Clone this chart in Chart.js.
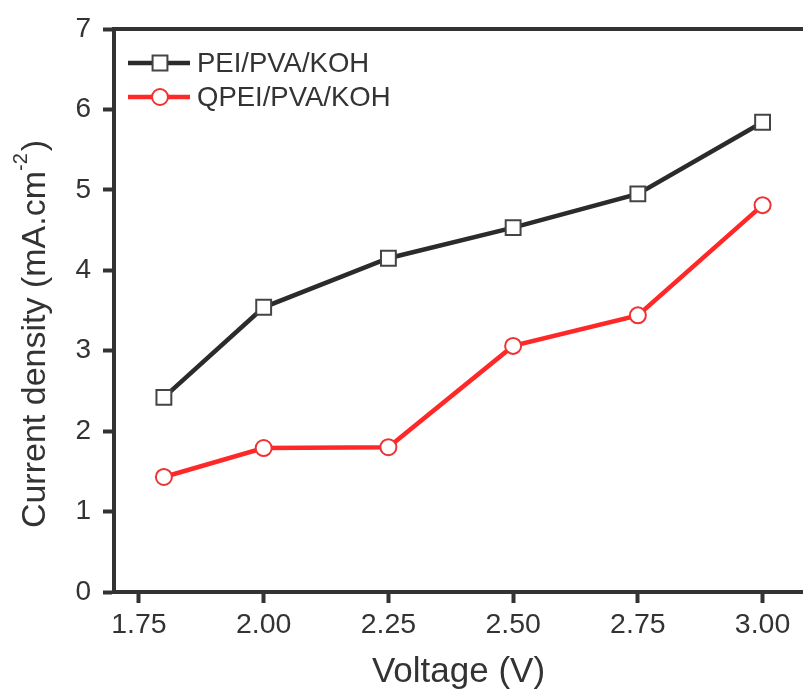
<!DOCTYPE html>
<html>
<head>
<meta charset="utf-8">
<script src="https://cdn.jsdelivr.net/npm/chart.js@4.4.1/dist/chart.umd.min.js"></script>
<style>
  html, body { margin: 0; padding: 0; background: #fff; }
  #wrap { width: 803px; height: 693px; position: relative; }
</style>
</head>
<body>
<div id="wrap"><canvas id="c" width="803" height="693"></canvas></div>
<script>
// Applied voltage (V)
const voltage = [1.80, 2.00, 2.25, 2.50, 2.75, 3.00];
// Current density (mA.cm^-2)
const peiPvaKoh = [2.42, 3.54, 4.15, 4.53, 4.95, 5.84];
const qpeiPvaKoh = [1.43, 1.79, 1.80, 3.06, 3.44, 4.81];
// Axis tick labels
const xTicks = [1.75, 2.00, 2.25, 2.50, 2.75, 3.00];
const yTicks = [0, 1, 2, 3, 4, 5, 6, 7];

const AXIS = '#333333';
const TEXT = '#333333';
const FONT = "'Liberation Sans', Arial, sans-serif";

const toXY = (xs, ys) => xs.map((x, i) => ({ x, y: ys[i] }));

// Top frame line, the y-axis title with its superscript, and the in-plot legend
const framePlugin = {
  id: 'frame',
  afterDraw(chart) {
    const { ctx, chartArea } = chart;
    ctx.save();
    ctx.strokeStyle = AXIS;
    ctx.lineWidth = 4;
    ctx.beginPath();
    ctx.moveTo(chartArea.left - 2, chartArea.top);
    ctx.lineTo(chartArea.right, chartArea.top);
    ctx.stroke();

    // y-axis title: "Current density (mA.cm" + superscript "-2" + ")"
    ctx.save();
    ctx.translate(45, 334);
    ctx.rotate(-Math.PI / 2);
    ctx.fillStyle = TEXT;
    ctx.textBaseline = 'alphabetic';
    ctx.textAlign = 'left';
    const main = 'Current density (mA.cm';
    const sup = '-2';
    const close = ')';
    ctx.font = '34px ' + FONT;
    const wMain = ctx.measureText(main).width;
    const wClose = ctx.measureText(close).width;
    ctx.font = '20px ' + FONT;
    const wSup = ctx.measureText(sup).width;
    const total = wMain + wSup + 2 + wClose;
    let x = -total / 2;
    ctx.font = '34px ' + FONT;
    ctx.fillText(main, x, 0);
    x += wMain;
    ctx.font = '20px ' + FONT;
    ctx.fillText(sup, x, -18);
    x += wSup + 2;
    ctx.font = '34px ' + FONT;
    ctx.fillText(close, x, 0);
    ctx.restore();

    // legend
    const x0 = 128, x1 = 190, xm = 160, tx = 197;
    const rows = [63, 97];
    chart.data.datasets.forEach((ds, i) => {
      const y = rows[i];
      ctx.strokeStyle = ds.borderColor;
      ctx.lineWidth = ds.borderWidth;
      ctx.beginPath();
      ctx.moveTo(x0, y);
      ctx.lineTo(x1, y);
      ctx.stroke();
      ctx.fillStyle = ds.pointBackgroundColor;
      ctx.strokeStyle = ds.pointBorderColor;
      ctx.lineWidth = ds.pointBorderWidth;
      ctx.beginPath();
      if (ds.pointStyle === 'rect') {
        const s = ds.pointRadius * Math.SQRT1_2;
        ctx.rect(xm - s, y - s, 2 * s, 2 * s);
      } else {
        ctx.arc(xm, y, ds.pointRadius, 0, Math.PI * 2);
      }
      ctx.fill();
      ctx.stroke();
      ctx.fillStyle = TEXT;
      ctx.font = '27.5px ' + FONT;
      ctx.textBaseline = 'middle';
      ctx.textAlign = 'left';
      ctx.fillText(ds.label, tx, y + 1);
    });
    ctx.restore();
  }
};

new Chart(document.getElementById('c'), {
  type: 'line',
  data: {
    datasets: [
      {
        label: 'PEI/PVA/KOH',
        data: toXY(voltage, peiPvaKoh),
        borderColor: '#2b2b2b',
        borderWidth: 4.5,
        pointStyle: 'rect',
        pointRadius: 10.5,
        pointBorderWidth: 2,
        pointBorderColor: '#444444',
        pointBackgroundColor: '#ffffff',
        tension: 0
      },
      {
        label: 'QPEI/PVA/KOH',
        data: toXY(voltage, qpeiPvaKoh),
        borderColor: '#ff2828',
        borderWidth: 4.5,
        pointStyle: 'circle',
        pointRadius: 8,
        pointBorderWidth: 2,
        pointBorderColor: '#ee3333',
        pointBackgroundColor: '#ffffff',
        tension: 0
      }
    ]
  },
  options: {
    responsive: false,
    animation: false,
    layout: { autoPadding: false, padding: { top: 29, right: 0, left: 0, bottom: 0 } },
    plugins: { legend: { display: false }, tooltip: { enabled: false } },
    scales: {
      x: {
        type: 'linear',
        min: 1.70,
        max: 3.081,
        afterFit(scale) {
          scale.height = 101;
          scale.paddingLeft = 0;
          scale.paddingRight = 0;
        },
        afterBuildTicks(scale) { scale.ticks = xTicks.map(v => ({ value: v })); },
        border: { display: true, color: AXIS, width: 4 },
        grid: { drawOnChartArea: false, drawTicks: true, tickLength: 11, tickWidth: 4, tickColor: AXIS },
        ticks: {
          padding: 5,
          color: TEXT,
          font: { family: FONT, size: 28.5 },
          callback: v => v.toFixed(2),
          maxRotation: 0
        },
        title: {
          display: true,
          text: 'Voltage (V)',
          color: TEXT,
          font: { family: FONT, size: 35 },
          padding: { top: 0, bottom: 0 }
        }
      },
      y: {
        min: 0,
        max: 7,
        afterFit(scale) {
          scale.width = 114;
          scale.paddingTop = 0;
          scale.paddingBottom = 0;
        },
        afterBuildTicks(scale) { scale.ticks = yTicks.map(v => ({ value: v })); },
        border: { display: true, color: AXIS, width: 4 },
        grid: { drawOnChartArea: false, drawTicks: true, tickLength: 11, tickWidth: 4, tickColor: AXIS },
        ticks: {
          padding: 12,
          color: TEXT,
          font: { family: FONT, size: 28 },
          callback: v => String(v)
        },
        title: { display: false }
      }
    }
  },
  plugins: [framePlugin]
});
</script>
</body>
</html>
